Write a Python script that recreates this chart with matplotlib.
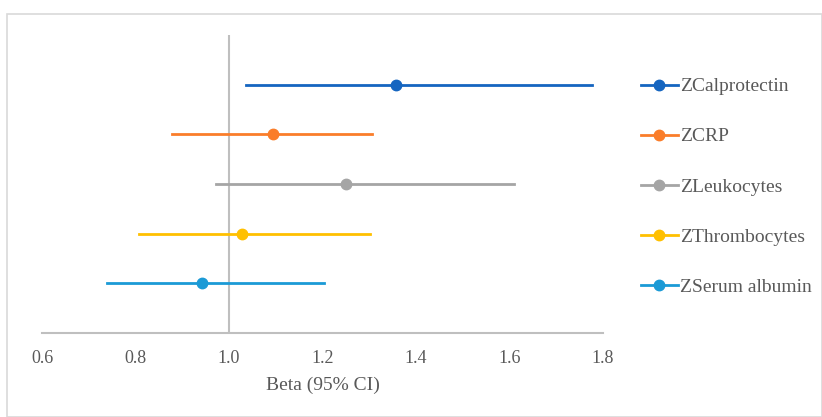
import matplotlib
matplotlib.use("Agg")
import matplotlib.pyplot as plt
from matplotlib.patches import Rectangle

labels = ["ZCalprotectin", "ZCRP", "ZLeukocytes", "ZThrombocytes", "ZSerum albumin"]
beta = [1.357, 1.094, 1.250, 1.028, 0.942]
ci_low = [1.036, 0.878, 0.972, 0.807, 0.739]
ci_high = [1.776, 1.306, 1.610, 1.302, 1.203]
colors = ["#1565C0", "#FA7D2A", "#A5A5A5", "#FFC000", "#1B9AD6"]
ypos = [5, 4, 3, 2, 1]

plt.rcParams['font.family'] = ['Liberation Serif', 'DejaVu Serif']
txt = "#595959"

fig = plt.figure(figsize=(8.22, 4.17), dpi=100)
ax = fig.add_axes([42 / 822, 1 - 333 / 417, (603 - 42) / 822, (333 - 35) / 417])

ax.axvline(1.0, color="#BFBFBF", lw=1.5, zorder=1)
for lab, b, lo, hi, c, y in zip(labels, beta, ci_low, ci_high, colors, ypos):
    ax.plot([lo, hi], [y, y], color=c, lw=2, zorder=2)
    ax.plot([b], [y], "o", color=c, ms=7.5, zorder=3)
    ax.plot([], [], "-o", color=c, lw=2, ms=7.5, label=lab)

ax.set_xlim(0.6, 1.8)
ax.set_ylim(0, 6)
ax.set_xticks([0.6, 0.8, 1.0, 1.2, 1.4, 1.6, 1.8])
ax.set_xticklabels(["0.6", "0.8", "1.0", "1.2", "1.4", "1.6", "1.8"])
ax.set_yticks([])
for s in ["left", "right", "top"]:
    ax.spines[s].set_visible(False)
ax.spines["bottom"].set_color("#BFBFBF")
ax.spines["bottom"].set_linewidth(1.5)
ax.tick_params(axis="x", length=0, pad=12, labelsize=13, labelcolor=txt)
ax.set_xlabel("Beta (95% CI)", fontsize=14, color=txt, labelpad=7)

leg = fig.legend(loc="upper left", bbox_to_anchor=(633 / 822, 1 - 70 / 417),
                 frameon=False, fontsize=14, labelcolor=txt, handlelength=1.9,
                 handletextpad=0.12, labelspacing=1.67, borderaxespad=0)

fig.patches.append(Rectangle((7 / 822, 0), 1 - 7 / 822, 1 - 14 / 417,
                             transform=fig.transFigure, fill=False,
                             edgecolor="#D9D9D9", lw=1.2))

fig.savefig("out.png", dpi=100)
